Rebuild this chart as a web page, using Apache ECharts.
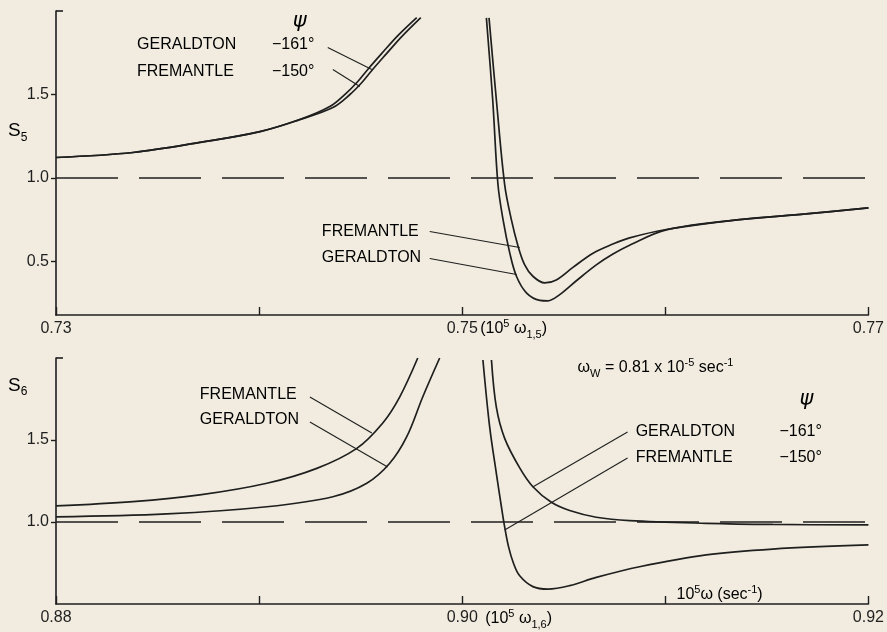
<!DOCTYPE html>
<html>
<head>
<meta charset="utf-8">
<script src="https://cdn.jsdelivr.net/npm/echarts@6/dist/echarts.min.js"></script>
<style>
  html, body { margin: 0; padding: 0; background: #f1ecdf; }
  #main { width: 887px; height: 632px; }
</style>
</head>
<body>
<div id="main"></div>
<script>
// ---- data ----
// upper panel (S5), x = 10^5 omega
var s5GerLeft = [[0.73, 1.123], [0.73379, 1.153], [0.73708, 1.213], [0.74004, 1.278], [0.742, 1.35],
    [0.74348, 1.428], [0.74427, 1.506], [0.74486, 1.578], [0.74535, 1.65], [0.74604, 1.746],
    [0.74683, 1.853], [0.74776, 1.961]];
var s5FreLeft = [[0.73, 1.123], [0.73379, 1.153], [0.73708, 1.213], [0.74004, 1.278], [0.742, 1.35],
    [0.74363, 1.422], [0.74447, 1.5], [0.74506, 1.572], [0.74555, 1.644], [0.74624, 1.74],
    [0.74702, 1.847], [0.74796, 1.961]];
var s5GerRight = [[0.75119, 1.959], [0.75150, 1.47], [0.75176, 0.961], [0.75201, 0.751],
    [0.75234, 0.552], [0.75267, 0.412], [0.75316, 0.313], [0.75382, 0.268], [0.75422, 0.265],
    [0.7548, 0.302], [0.75562, 0.385], [0.7566, 0.48], [0.75742, 0.545], [0.75824, 0.598],
    [0.76005, 0.69], [0.76365, 0.751], [0.76693, 0.785], [0.77, 0.821]];
var s5FreRight = [[0.75132, 1.959], [0.75168, 1.47], [0.75209, 0.961], [0.75242, 0.751],
    [0.75275, 0.592], [0.75307, 0.482], [0.75348, 0.412], [0.75406, 0.372], [0.75463, 0.39],
    [0.75545, 0.465], [0.75644, 0.55], [0.75742, 0.605], [0.75824, 0.642], [0.76005, 0.692],
    [0.76365, 0.751], [0.76693, 0.785], [0.77, 0.821]];

// lower panel (S6)
var s6FreLeft = [[0.88, 1.098], [0.88379, 1.124], [0.88708, 1.165], [0.89038, 1.236], [0.89284, 1.327],
    [0.89481, 1.449], [0.89609, 1.604], [0.89692, 1.762], [0.89781, 2.0]];
var s6GerLeft = [[0.88, 1.031], [0.88546, 1.049], [0.89038, 1.093], [0.89363, 1.154], [0.8953, 1.236],
    [0.89643, 1.358], [0.89727, 1.52], [0.89806, 1.764], [0.89889, 2.0]];
var s6FreRight = [[0.90102, 1.988], [0.90135, 1.581], [0.90168, 1.297], [0.90193, 1.093],
    [0.90209, 0.97], [0.90228, 0.85], [0.90252, 0.75], [0.90283, 0.672], [0.90348, 0.606],
    [0.90422, 0.591], [0.90529, 0.612], [0.9066, 0.662], [0.90873, 0.727], [0.91201, 0.799],
    [0.91529, 0.835], [0.92, 0.86]];
var s6GerRight = [[0.90144, 1.988], [0.90168, 1.70], [0.90209, 1.51], [0.90283, 1.33], [0.90348, 1.215],
    [0.90439, 1.12], [0.90529, 1.07], [0.9066, 1.029], [0.90824, 1.008], [0.91201, 0.992],
    [0.91529, 0.985], [0.92, 0.982]];

// axis ticks / labels
var s5XTicks = [0.73, 0.74, 0.75, 0.76, 0.77];
var s5XLabels = [0.73, 0.75, 0.77];
var s6XTicks = [0.88, 0.89, 0.90, 0.91, 0.92];
var s6XLabels = [0.88, 0.90, 0.92];
var s5YTicks = [0.5, 1.0, 1.5];
var s6YTicks = [1.0, 1.5];

var chartDom = document.getElementById('main');
var myChart = echarts.init(chartDom);
var ink = '#1f1f1f';
var font = '"Liberation Sans", Arial, sans-serif';

// leader lines [grid, from, to] in data units
var leaders = [
    [0, [0.74338, 1.781], [0.74555, 1.650]],
    [0, [0.74363, 1.650], [0.74496, 1.548]],
    [0, [0.74840, 0.680], [0.75283, 0.584]],
    [0, [0.74840, 0.518], [0.75268, 0.422]],
    [1, [0.89250, 1.762], [0.89555, 1.543]],
    [1, [0.89250, 1.610], [0.89633, 1.335]],
    [1, [0.90814, 1.549], [0.90347, 1.213]],
    [1, [0.90814, 1.390], [0.90209, 0.951]]
];

function xAxis(idx, min, max, ticks, labels) {
    return {
        type: 'value', gridIndex: idx, min: min, max: max,
        axisLine: { lineStyle: { color: ink, width: 1.6 } },
        axisTick: { inside: true, length: 8, customValues: ticks, lineStyle: { color: ink, width: 1.4 } },
        axisLabel: { customValues: labels, margin: 6, color: ink, fontSize: 16, fontFamily: font,
            formatter: function (v) { return v.toFixed(2); } },
        splitLine: { show: false }
    };
}
function yAxis(idx, min, ticks) {
    return {
        type: 'value', gridIndex: idx, min: min, max: 2.0,
        axisLine: { show: true, lineStyle: { color: ink, width: 1.6 } },
        axisTick: { length: 5, customValues: ticks, lineStyle: { color: ink, width: 1.4 } },
        axisLabel: { customValues: ticks, margin: 7, color: ink, fontSize: 16, fontFamily: font,
            formatter: function (v) { return v.toFixed(1); } },
        splitLine: { show: false }
    };
}
function curve(idx, data, withDash) {
    var s = {
        type: 'line', xAxisIndex: idx, yAxisIndex: idx, data: data,
        showSymbol: false, symbol: 'none', smooth: 0.35, silent: true,
        lineStyle: { color: ink, width: 1.7 }
    };
    if (withDash) {
        s.markLine = {
            silent: true, symbol: 'none', label: { show: false },
            lineStyle: { color: ink, width: 1.6, type: [62, 21] },
            data: [{ yAxis: 1.0 }]
        };
    }
    return s;
}

var series = [
    curve(0, s5GerLeft, true), curve(0, s5FreLeft), curve(0, s5GerRight), curve(0, s5FreRight),
    curve(1, s6FreLeft, true), curve(1, s6GerLeft), curve(1, s6FreRight), curve(1, s6GerRight)
];
leaders.forEach(function (l) {
    series.push({
        type: 'line', xAxisIndex: l[0], yAxisIndex: l[0], data: [l[1], l[2]],
        showSymbol: false, symbol: 'none', silent: true,
        lineStyle: { color: ink, width: 1.1 }
    });
});

var option = {
    backgroundColor: '#f1ecdf',
    animation: false,
    grid: [
        { left: 56, top: 11, width: 813, height: 304 },
        { left: 56, top: 358, width: 813, height: 246 }
    ],
    xAxis: [xAxis(0, 0.73, 0.77, s5XTicks, s5XLabels), xAxis(1, 0.88, 0.92, s6XTicks, s6XLabels)],
    yAxis: [yAxis(0, 0.18, s5YTicks), yAxis(1, 0.5, s6YTicks)],
    series: series
};
myChart.setOption(option);

// ---- text annotations, placed through the axes ----
var rich = {
    p: { fontSize: 16, fontFamily: font, color: ink, lineHeight: 22 },
    sup: { fontSize: 11, fontFamily: font, color: ink, lineHeight: 12, verticalAlign: 'top' },
    sub: { fontSize: 11, fontFamily: font, color: ink, lineHeight: 12, verticalAlign: 'bottom' },
    s: { fontSize: 19, fontFamily: font, color: ink, lineHeight: 24 },
    ssub: { fontSize: 12, fontFamily: font, color: ink, lineHeight: 12, verticalAlign: 'bottom' },
    psi: { fontSize: 21, fontFamily: '"DejaVu Sans", sans-serif', fontStyle: 'italic', color: ink, lineHeight: 24 }
};
var notes = [
    [0, [0.74200, 1.937], '{psi|ψ}', 'center'],
    [0, [0.73399, 1.799], '{p|GERALDTON}', 'left'],
    [0, [0.74063, 1.799], '{p|−161°}', 'left'],
    [0, [0.73399, 1.638], '{p|FREMANTLE}', 'left'],
    [0, [0.74063, 1.638], '{p|−150°}', 'left'],
    [0, [0.74309, 0.680], '{p|FREMANTLE}', 'left'],
    [0, [0.74309, 0.524], '{p|GERALDTON}', 'left'],
    [1, [0.88708, 1.774], '{p|FREMANTLE}', 'left'],
    [1, [0.88708, 1.622], '{p|GERALDTON}', 'left'],
    [1, [0.90568, 1.939], '{p|ω}{sub|W}{p| = 0.81 x 10}{sup|-5}{p| sec}{sup|-1}', 'left'],
    [1, [0.91695, 1.744], '{psi|ψ}', 'center'],
    [1, [0.90854, 1.549], '{p|GERALDTON}', 'left'],
    [1, [0.91562, 1.549], '{p|−161°}', 'left'],
    [1, [0.90854, 1.390], '{p|FREMANTLE}', 'left'],
    [1, [0.91562, 1.390], '{p|−150°}', 'left'],
    [1, [0.91055, 0.555], '{p|10}{sup|5}{p|ω (sec}{sup|-1}{p|)}', 'left']
];
var graphics = notes.map(function (n) {
    var pt = myChart.convertToPixel({ gridIndex: n[0] }, n[1]);
    return {
        type: 'text', x: pt[0], y: pt[1], silent: true,
        style: { text: n[2], rich: rich, align: n[3], verticalAlign: 'middle' }
    };
});
// axis names and the suffixes of the middle tick labels
var p5 = myChart.convertToPixel({ gridIndex: 0 }, [0.75, 0.18]);
var p6 = myChart.convertToPixel({ gridIndex: 1 }, [0.90, 0.5]);
graphics.push({ type: 'text', x: p5[0] + 18, y: p5[1] + 14, silent: true,
    style: { text: '{p|(10}{sup|5}{p| ω}{sub|1,5}{p|)}', rich: rich, align: 'left', verticalAlign: 'middle' } });
graphics.push({ type: 'text', x: p6[0] + 23, y: p6[1] + 15, silent: true,
    style: { text: '{p|(10}{sup|5}{p| ω}{sub|1,6}{p|)}', rich: rich, align: 'left', verticalAlign: 'middle' } });
var yl5 = myChart.convertToPixel({ gridIndex: 0 }, [0.73, 1.28]);
var yl6 = myChart.convertToPixel({ gridIndex: 1 }, [0.88, 1.83]);
graphics.push({ type: 'text', x: 8, y: yl5[1], silent: true,
    style: { text: '{s|S}{ssub|5}', rich: rich, align: 'left', verticalAlign: 'middle' } });
graphics.push({ type: 'text', x: 8, y: yl6[1], silent: true,
    style: { text: '{s|S}{ssub|6}', rich: rich, align: 'left', verticalAlign: 'middle' } });
// little bracket at the top of each y axis
[0, 1].forEach(function (g) {
    var top = myChart.convertToPixel({ gridIndex: g }, [g ? 0.88 : 0.73, 2.0]);
    graphics.push({ type: 'line', silent: true,
        shape: { x1: top[0], y1: top[1], x2: top[0] + 7, y2: top[1] },
        style: { stroke: ink, lineWidth: 1.6 } });
});
myChart.setOption({ graphic: graphics });
</script>
</body>
</html>
